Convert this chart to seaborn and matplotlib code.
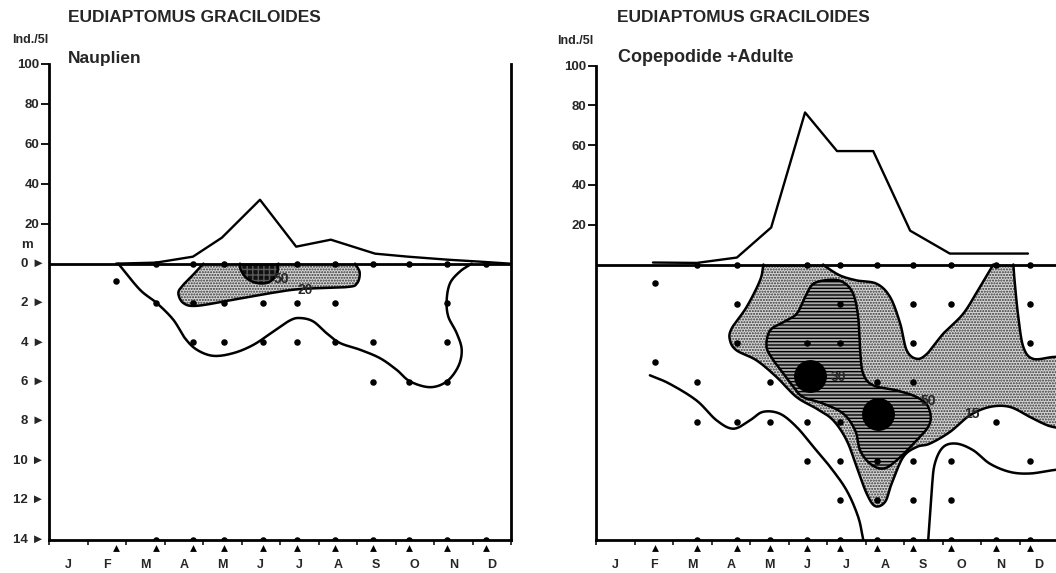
import numpy as np
import matplotlib
matplotlib.use("Agg")
import matplotlib.pyplot as plt
import matplotlib.transforms as mtransforms
import seaborn as sns
import pandas as pd

# ------------------------------------------------------------------ data
MONTHS = ["J", "F", "M", "A", "M", "J", "J", "A", "S", "O", "N", "D"]
DEPTH_TICKS = [0, 2, 4, 6, 8, 10, 12, 14]
ABUND_TICKS = [20, 40, 60, 80, 100]
TITLE = "EUDIAPTOMUS GRACILOIDES"
UNIT = "Ind./5l"
LEFT_LABEL = "Nauplien"
RIGHT_LABEL = "Copepodide +Adulte"

# sampling dates (month units, 0 = 1 Jan)
naup_dates = [1.74, 2.78, 3.74, 4.55, 5.56, 6.44, 7.43, 8.42, 9.35, 10.34, 11.35]
cop_dates = [1.53, 2.62, 3.66, 4.52, 5.48, 6.34, 7.30, 8.23, 9.22, 10.39, 11.27]

# column abundance (Ind./5l)
naup_line_x = [1.74, 2.78, 3.74, 4.49, 5.48, 6.42, 7.32, 8.47, 9.32, 10.34, 11.19, 11.97]
naup_line_y = [0, 0.5, 3.5, 13, 32, 8.5, 12, 5, 3.5, 2, 1, 0]
cop_line_x = [1.48, 2.62, 3.66, 4.55, 5.43, 6.26, 7.20, 8.16, 9.19, 10.30, 11.22]
cop_line_y = [1, 0.8, 3.5, 18.6, 76.4, 57, 57, 17, 5.5, 5.5, 5.5]

# sample points (month, depth m)
naup_pts_m = [1.74, 2.78, 2.78, 2.78, 3.74, 3.74, 3.74, 3.74, 4.55, 4.55, 4.55, 4.55,
              5.56, 5.56, 5.56, 6.44, 6.44, 6.44, 6.44, 7.43, 7.43, 7.43, 7.43,
              8.42, 8.42, 8.42, 8.42, 9.35, 9.35, 9.35,
              10.34, 10.34, 10.34, 10.34, 10.34, 11.35, 11.35]
naup_pts_d = [0.9, 0, 2, 14, 0, 2, 4, 14, 0, 2, 4, 14,
              2, 4, 14, 0, 2, 4, 14, 0, 2, 4, 14,
              0, 4, 6, 14, 0, 6, 14,
              0, 2, 4, 6, 14, 0, 14]
cop_pts_m = [1.53, 1.53, 2.62, 2.62, 2.62, 2.62, 3.66, 3.66, 3.66, 3.66, 3.66,
             4.52, 4.52, 4.52, 5.48, 5.48, 5.48, 5.48, 5.48,
             6.34, 6.34, 6.34, 6.34, 6.34, 6.34, 6.34,
             7.30, 7.30, 7.30, 7.30, 7.30,
             8.23, 8.23, 8.23, 8.23, 8.23, 8.23, 8.23,
             9.22, 9.22, 9.22, 9.22, 9.22, 10.39, 10.39, 10.39,
             11.27, 11.27, 11.27, 11.27, 11.27]
cop_pts_d = [0.95, 4.97, 0, 6, 8, 14, 0, 2, 4, 8, 14,
             6, 8, 14, 0, 4, 8, 10, 14,
             0, 2, 4, 8, 10, 12, 14,
             0, 6, 10, 12, 14,
             0, 2, 4, 6, 10, 12, 14,
             0, 2, 10, 12, 14, 0, 8, 14,
             0, 2, 4, 10, 14]
# maxima (big dots)
cop_max_m = [5.56, 7.33]
cop_max_d = [5.69, 7.59]

# isoline outlines (month, depth)
naup_outer = [(1.80, 0), (2.36, 1.32), (2.80, 2.0), (3.23, 2.85), (3.53, 3.78), (3.84, 4.37),
              (4.27, 4.68), (4.79, 4.54), (5.31, 4.12), (5.83, 3.44), (6.26, 2.88), (6.52, 2.76),
              (6.86, 2.93), (7.21, 3.53), (7.56, 4.03), (8.08, 4.37), (8.60, 4.80), (9.03, 5.39),
              (9.38, 5.98), (9.90, 6.27), (10.33, 5.98), (10.63, 5.22), (10.72, 4.37),
              (10.59, 3.53), (10.37, 2.68), (10.33, 1.83), (10.42, 0.98), (10.68, 0.39), (10.98, 0)]
naup_20 = [(4.01, 0), (3.79, 0.47), (3.49, 1.07), (3.36, 1.49), (3.49, 2.0), (3.84, 2.14),
           (4.79, 1.83), (5.65, 1.53), (6.52, 1.29), (7.73, 1.19), (8.00, 1.0), (8.07, 0.45),
           (7.95, 0)]
naup_50 = [(4.96, 0), (4.98, 0.31), (5.13, 0.73), (5.39, 0.98), (5.70, 0.95), (5.91, 0.56), (5.96, 0)]

cop_low_left = [(1.40, 5.64), (1.91, 6.07), (2.61, 6.92), (3.13, 7.93), (3.57, 8.36), (4.0, 7.93),
                (4.34, 7.5), (4.78, 7.6), (5.21, 8.27), (5.65, 9.29), (6.08, 10.3), (6.51, 11.5),
                (6.81, 12.85), (6.94, 14.0)]
cop_low_right = [(8.63, 14.0), (8.72, 11.49), (8.80, 10.14), (9.02, 9.29), (9.37, 9.12),
                 (9.80, 9.46), (10.23, 10.14), (10.75, 10.56), (11.27, 10.64), (11.87, 10.47),
                 (12.4, 10.35)]
cop_15_a = [(4.35, 0), (4.26, 0.81), (3.91, 2.17), (3.52, 3.27), (3.48, 3.86), (3.65, 4.37),
            (4.17, 4.88), (4.69, 5.73), (5.21, 6.75), (5.73, 7.34), (6.16, 7.93), (6.51, 8.95),
            (6.77, 10.3), (7.03, 11.66), (7.25, 12.3), (7.51, 12.08), (7.68, 11.15), (7.98, 9.8),
            (8.33, 9.29), (8.67, 9.12), (9.19, 8.53), (9.71, 7.68), (10.23, 7.25), (10.75, 7.25),
            (11.27, 7.76), (11.62, 8.1), (11.87, 8.27), (12.4, 8.45)]
cop_15_b = [(12.4, 4.65), (11.87, 4.71), (11.35, 4.8), (11.1, 4.2), (10.97, 2.68), (10.88, 0.98),
            (10.84, 0)]
cop_15_c = [(10.32, 0), (10.23, 0.3), (9.97, 1.15), (9.54, 2.5), (9.02, 3.52), (8.6, 4.54),
            (8.33, 4.8), (8.07, 4.37), (7.9, 3.0), (7.64, 1.66), (7.29, 0.98), (6.77, 0.81),
            (6.34, 0.56), (5.99, 0.14), (5.90, 0)]
cop_30 = [(5.65, 0.98), (6.08, 0.78), (6.42, 0.9), (6.68, 1.49), (6.81, 2.68), (6.86, 4.37),
          (6.94, 5.56), (7.2, 6.15), (7.81, 6.41), (8.33, 6.75), (8.63, 7.25), (8.67, 8.1),
          (8.33, 8.95), (7.81, 9.97), (7.46, 10.39), (7.12, 10.14), (6.86, 9.46), (6.73, 8.44),
          (6.42, 7.59), (5.9, 7.08), (5.38, 6.75), (5.13, 6.24), (4.87, 5.56), (4.61, 4.88),
          (4.43, 4.2), (4.52, 3.36), (4.87, 2.93), (5.21, 2.51), (5.43, 1.66)]

naup_labels = [("50", 6.04, 0.78), ("20", 6.65, 1.32)]
cop_labels = [("30", 6.3, 5.75), ("50", 8.62, 6.97), ("15", 9.77, 7.63)]

# ------------------------------------------------------------------ style
DS = 9.87  # depth metres -> plotting units (1 m ~ 9.87 Ind./5l on the page)
W, H = 1056, 573
sns.set_theme(style="white")
plt.rcParams["font.family"] = ["Liberation Sans", "DejaVu Sans"]
plt.rcParams["font.weight"] = "bold"
plt.rcParams["axes.edgecolor"] = "black"
plt.rcParams["hatch.linewidth"] = 1.0
FS_TICK = 9.5


def catmull(pts, closed, n=16):
    P = np.asarray(pts, float)
    if closed:
        Q = np.vstack([P[-1], P, P[0], P[1]])
    else:
        Q = np.vstack([2 * P[0] - P[1], P, 2 * P[-1] - P[-2]])
    t = np.linspace(0, 1, n, endpoint=False)[:, None]
    segs = []
    for i in range(1, len(Q) - 2):
        p0, p1, p2, p3 = Q[i - 1], Q[i], Q[i + 1], Q[i + 2]
        segs.append(0.5 * (2 * p1 + (p2 - p0) * t + (2 * p0 - 5 * p1 + 4 * p2 - p3) * t ** 2
                           + (3 * p1 - p0 - 3 * p2 + p3) * t ** 3))
    if closed:
        segs.append(P[:1])
    else:
        segs.append(P[-1:])
    c = np.vstack(segs)
    return c[:, 0], -DS * c[:, 1]


def region(ax, curves, closed, fc, hc, hatch, z):
    xs, ys = [], []
    for cv in curves:
        x, y = catmull(cv, closed)
        xs.append(x)
        ys.append(y)
        ax.plot(x, y, color="black", lw=1.8, zorder=z + 0.5, solid_capstyle="round")
    X, Y = np.concatenate(xs), np.concatenate(ys)
    ax.fill(X, Y, facecolor=fc, edgecolor=hc, hatch=hatch, lw=0, zorder=z)


def line(ax, pts, z=3):
    x, y = catmull(pts, False)
    ax.plot(x, y, color="black", lw=1.8, zorder=z)


def frame(ax, right_spine):
    ax.set_xlim(0, 12)
    ax.set_ylim(-14 * DS, 100)
    for s in ["left", "bottom", "right"]:
        ax.spines[s].set_linewidth(2)
        ax.spines[s].set_color("black")
    ax.spines["top"].set_visible(False)
    ax.spines["right"].set_visible(right_spine)
    ax.axhline(0, color="black", lw=2, zorder=6)
    ax.set_yticks(ABUND_TICKS)
    ax.set_yticklabels([str(v) for v in ABUND_TICKS], fontsize=FS_TICK, fontweight="bold")
    ax.tick_params(axis="y", which="major", left=True, length=6, width=1.3, pad=1, color="black")
    ax.set_xticks(range(13))
    ax.set_xticklabels([""] * 13)
    ax.tick_params(axis="x", which="major", bottom=True, length=3.5, width=1.3, direction="out")
    ax.set_xticks(np.arange(12) + 0.5, minor=True)
    ax.set_xticklabels(MONTHS, minor=True, fontsize=9, fontweight="bold")
    ax.tick_params(axis="x", which="minor", bottom=True, length=0, pad=14)
    ax.set_xlabel("")
    ax.set_ylabel("")
    ax.grid(False)


def sampling(ax, dates):
    ax.scatter(dates, [-14 * DS - 4.5] * len(dates), marker="^", s=24, color="black",
               clip_on=False, zorder=7, linewidths=0)


fig = plt.figure(figsize=(W / 100, H / 100), dpi=100)
bottom = 1 - 539.5 / H
axL = fig.add_axes([49 / W, bottom, 462 / W, (539.5 - 64) / H])
axR = fig.add_axes([596 / W, bottom, 462 / W, (539.5 - 65.5) / H])

# ---------------- left panel: Nauplien
frame(axL, True)
region(axL, [naup_20], False, "#d6d6d6", "#333333", "......", 1)
region(axL, [naup_50], False, "#111111", "#5a5a5a", "+++", 2)
line(axL, naup_outer)
sns.lineplot(x=naup_line_x, y=naup_line_y, ax=axL, color="black", lw=1.7, zorder=5)
dfL = pd.DataFrame({"m": naup_pts_m, "y": [-DS * d for d in naup_pts_d]})
sns.scatterplot(data=dfL, x="m", y="y", ax=axL, color="black", s=22, linewidth=0, zorder=8)
sampling(axL, naup_dates)
for txt, m, d in naup_labels:
    axL.text(m, -DS * d, txt, fontsize=10, fontweight="bold", ha="center", va="center", zorder=9)
trans = mtransforms.blended_transform_factory(axL.transAxes, axL.transData)
for d in DEPTH_TICKS:
    axL.text(-0.009, -DS * d, f"{d} \u25BA", transform=trans, ha="right", va="center",
             fontsize=FS_TICK, fontweight="bold")
axL.text(-0.048, 9.5, "m", transform=trans, ha="center", va="center", fontsize=FS_TICK,
         fontweight="bold")
axL.set_xlabel("")
axL.set_ylabel("")

# ---------------- right panel: Copepodide + Adulte
frame(axR, False)
region(axR, [cop_15_a, cop_15_b, cop_15_c], False, "#d6d6d6", "#333333", "......", 1)
region(axR, [cop_30], True, "#a8a8a8", "#000000", "-----", 2)
line(axR, cop_low_left)
line(axR, cop_low_right)
sns.lineplot(x=cop_line_x, y=cop_line_y, ax=axR, color="black", lw=1.7, zorder=5)
dfR = pd.DataFrame({"m": cop_pts_m, "y": [-DS * d for d in cop_pts_d]})
sns.scatterplot(data=dfR, x="m", y="y", ax=axR, color="black", s=22, linewidth=0, zorder=8)
dfM = pd.DataFrame({"m": cop_max_m, "y": [-DS * d for d in cop_max_d]})
sns.scatterplot(data=dfM, x="m", y="y", ax=axR, color="black", s=560, linewidth=0, zorder=8)
sampling(axR, cop_dates)
for txt, m, d in cop_labels:
    axR.text(m, -DS * d, txt, fontsize=10, fontweight="bold", ha="center", va="center", zorder=9)
axR.set_xlabel("")
axR.set_ylabel("")

# ---------------- titles
def ftext(x, y, s, size):
    fig.text(x / W, 1 - y / H, s, fontsize=size, fontweight="bold", ha="left", va="center")

ftext(68, 18, TITLE, 12.5)
ftext(12, 40, UNIT, 9)
ftext(68, 58, LEFT_LABEL, 12.5)
ftext(617, 17, TITLE, 12.5)
ftext(557, 41, UNIT, 9)
ftext(618, 58, RIGHT_LABEL, 13)

fig.savefig("out.png", dpi=100)
